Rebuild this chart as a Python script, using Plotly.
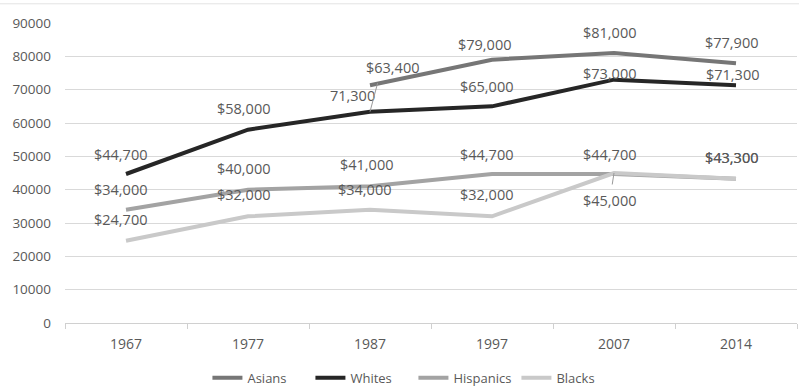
import plotly.graph_objects as go

years = ["1967", "1977", "1987", "1997", "2007", "2014"]

asians = [None, None, 71300, 79000, 81000, 77900]
whites = [44700, 58000, 63400, 65000, 73000, 71300]
hispanics = [34000, 40000, 41000, 44700, 44700, 43300]
blacks = [24700, 32000, 34000, 32000, 45000, 43300]

asians_labels = [None, None, "$63,400", "$79,000", "$81,000", "$77,900"]
whites_labels = ["$44,700", "$58,000", "71,300", "$65,000", "$73,000", "$71,300"]
hispanics_labels = ["$34,000", "$40,000", "$41,000", "$44,700", "$44,700", "$43,300"]
blacks_labels = ["$24,700", "$32,000", "$34,000", "$32,000", "$45,000", "$43,300"]

y_ticks = [0, 10000, 20000, 30000, 40000, 50000, 60000, 70000, 80000, 90000]

series = [
    ("Asians", asians, asians_labels, "#767676"),
    ("Whites", whites, whites_labels, "#262626"),
    ("Hispanics", hispanics, hispanics_labels, "#a3a3a3"),
    ("Blacks", blacks, blacks_labels, "#c9c9c9"),
]

# label offsets in pixels (dx, dy) per series/point
offsets = {
    "Asians": [None, None, (23, 18), (-7, 15), (-4, 21), (-4, 21)],
    "Whites": [(-5, 20), (-4, 21), (-18, 16), (-5, 20), (-4, 6), (-3, 11)],
    "Hispanics": [(-5, 20), (-4, 21), (-3, 22), (-5, 20), (-4, 20), (-4, 21)],
    "Blacks": [(-5, 21), (-4, 22), (-5, 20), (-5, 22), (-4, -27), (-4, 21)],
}

fig = go.Figure()
for name, vals, labs, col in series:
    fig.add_trace(go.Scatter(
        x=years, y=vals, name=name, mode="lines",
        line=dict(color=col, width=4), connectgaps=False,
    ))

font_lbl = dict(family="Open Sans", size=14.5, color="#595959")
annotations = []
for name, vals, labs, col in series:
    for i, (v, t) in enumerate(zip(vals, labs)):
        if v is None or t is None:
            continue
        dx, dy = offsets[name][i]
        annotations.append(dict(
            x=i, y=v, xref="x", yref="y", text=t, showarrow=False,
            xshift=dx, yshift=dy, font=font_lbl,
        ))

# leader lines
annotations.append(dict(x=2, y=whites[2], xref="x", yref="y", text="",
                        showarrow=True, arrowhead=0, arrowwidth=1, arrowcolor="#9a9a9a",
                        ax=8, ay=-30, standoff=0))
annotations.append(dict(x=4, y=blacks[4], xref="x", yref="y", text="",
                        showarrow=True, arrowhead=0, arrowwidth=1, arrowcolor="#9a9a9a",
                        ax=-2, ay=13, standoff=0))

fig.update_layout(
    width=799, height=389,
    margin=dict(l=65, r=2, t=23, b=66, autoexpand=False),
    paper_bgcolor="white", plot_bgcolor="white",
    showlegend=True,
    legend=dict(orientation="h", x=0.476, xanchor="center", y=-0.183, yanchor="middle",
                font=dict(family="Open Sans", size=13, color="#595959"),
                itemwidth=30, traceorder="normal", entrywidth=58, entrywidthmode="pixels"),
    annotations=annotations,
    shapes=[dict(type="line", xref="paper", yref="paper", x0=-0.089, x1=1.003,
                 y0=1.064, y1=1.064, line=dict(color="#e3e3e3", width=1))],
)
fig.update_xaxes(type="category", showgrid=False, showline=True, linecolor="#d0d0d0",
                 ticks="outside", tickson="boundaries", ticklen=5, tickcolor="#d0d0d0",
                 tickfont=dict(family="Open Sans", size=14, color="#595959"),
                 range=[-0.5, 5.5], ticklabelstandoff=8, automargin=False)
fig.update_yaxes(range=[0, 90000], tickvals=y_ticks, ticktext=[str(v) for v in y_ticks],
                 showgrid=True, gridcolor="#d9d9d9", gridwidth=1, zeroline=False,
                 tickfont=dict(family="Open Sans", size=13.5, color="#595959"),
                 ticklabelstandoff=13, automargin=False)

fig.write_html("out.html")
